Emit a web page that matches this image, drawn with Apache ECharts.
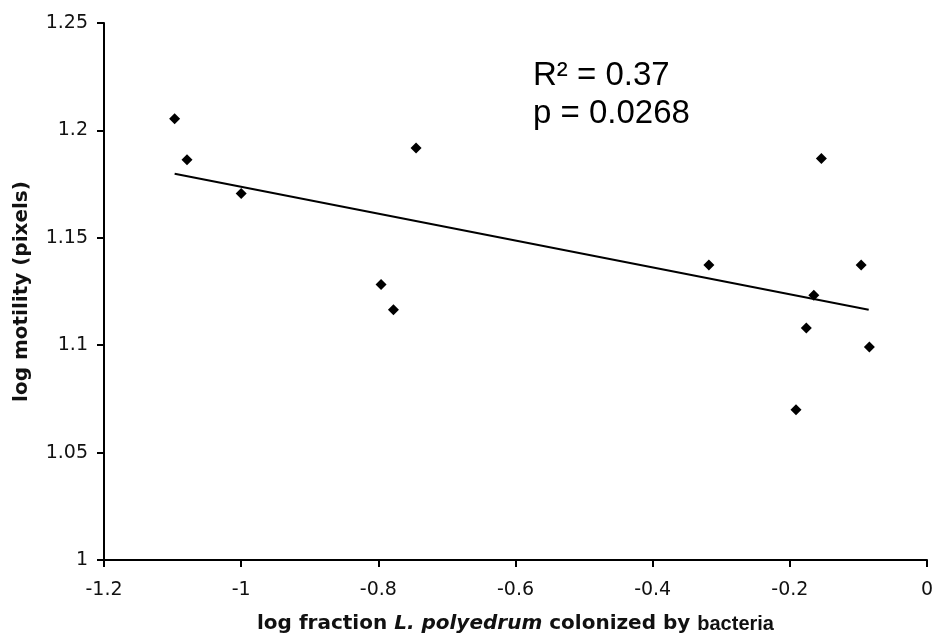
<!DOCTYPE html>
<html>
<head>
<meta charset="utf-8">
<script src="https://cdn.jsdelivr.net/npm/echarts@6/dist/echarts.min.js"></script>
<style>
* { margin: 0; padding: 0; }
html, body { width: 938px; height: 639px; background: #fff; }
#chart { width: 938px; height: 639px; }
</style>
</head>
<body>
<div id="chart"></div>
<script>
// measured points (log fraction colonized, log motility)
const xVals = [-1.097, -1.079, -1.0, -0.796, -0.778, -0.745, -0.318, -0.191, -0.176, -0.165, -0.154, -0.096, -0.084];
const yVals = [1.2054, 1.1863, 1.1706, 1.1283, 1.1165, 1.1918, 1.1373, 1.0700, 1.1080, 1.1233, 1.1869, 1.1373, 1.0992];
// trend line ends as drawn
const trendX = [-1.097, -0.085];
const trendY = [1.1798, 1.1165];
const xTicks = [-1.2, -1, -0.8, -0.6, -0.4, -0.2, 0];
const yTicks = [1, 1.05, 1.1, 1.15, 1.2, 1.25];
const statsText = ['R\u00b2 = 0.37', 'p = 0.0268'];

const points = xVals.map((x, i) => [x, yVals[i]]);
const trend = trendX.map((x, i) => [x, trendY[i]]);

const chart = echarts.init(document.getElementById('chart'));
const axisCommon = {
  splitLine: { show: false },
  axisLine: { onZero: false, lineStyle: { color: '#000', width: 2 } },
  axisTick: { show: true, length: 7, lineStyle: { color: '#000', width: 2 } },
  axisLabel: { color: '#111', fontFamily: 'DejaVu Sans', fontSize: 19 }
};
chart.setOption({
  animation: false,
  grid: { left: 104, right: 11, top: 23, bottom: 78 },
  xAxis: Object.assign({}, axisCommon, {
    type: 'value',
    min: xTicks[0],
    max: xTicks[xTicks.length - 1],
    interval: 0.2,
    axisLabel: Object.assign({}, axisCommon.axisLabel, { margin: 21 }),
    name: '{b|log fraction }{i|L. polyedrum}{b| colonized by }{s|bacteria}',
    nameLocation: 'middle',
    nameGap: 54,
    nameTextStyle: {
      rich: {
        b: { fontFamily: 'DejaVu Sans', fontWeight: 'bold', fontSize: 20, color: '#111' },
        i: { fontFamily: 'DejaVu Sans', fontWeight: 'bold', fontStyle: 'italic', fontSize: 20, color: '#111' },
        s: { fontFamily: 'Liberation Sans', fontWeight: 'bold', fontSize: 20, color: '#111' }
      }
    }
  }),
  yAxis: Object.assign({}, axisCommon, {
    type: 'value',
    min: yTicks[0],
    max: yTicks[yTicks.length - 1],
    interval: 0.05,
    axisLabel: Object.assign({}, axisCommon.axisLabel, { margin: 16 }),
    name: 'log motility (pixels)',
    nameLocation: 'middle',
    nameGap: 72,
    nameTextStyle: { fontFamily: 'DejaVu Sans', fontWeight: 'bold', fontSize: 20, color: '#111' }
  }),
  graphic: [{
    type: 'text',
    left: 533,
    top: 57,
    style: {
      text: statsText.join('\n'),
      font: '33px "Liberation Sans"',
      lineHeight: 38,
      fill: '#000'
    }
  }],
  series: [
    {
      type: 'line',
      data: trend,
      symbol: 'none',
      lineStyle: { color: '#000', width: 2 },
      z: 2
    },
    {
      type: 'scatter',
      data: points,
      symbol: 'diamond',
      symbolSize: [11, 11],
      itemStyle: { color: '#000', opacity: 1 },
      z: 3
    }
  ]
});
</script>
</body>
</html>
